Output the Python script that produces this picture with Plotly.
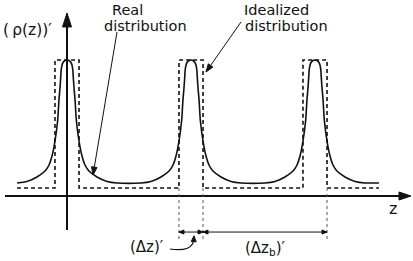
import math
import plotly.graph_objects as go

W, H = 413, 261

# ---------------- data ----------------
PEAK_CENTERS = [0.0, 1.0, 2.0]                      # z positions of the layers
PROFILE_DZ = [0.000, 0.016, 0.032, 0.040, 0.047, 0.052, 0.058, 0.065,
              0.075, 0.097, 0.121, 0.145, 0.177, 0.242, 0.323, 0.403]
PROFILE_RHO = [1.000, 0.996, 0.982, 0.963, 0.926, 0.853, 0.779, 0.706,
               0.559, 0.404, 0.294, 0.228, 0.184, 0.140, 0.107, 0.096]
REAL_Z_START, REAL_Z_END = -0.403, 2.516
REAL_BASE = 0.096

BOX_HALF = 0.097                                    # half of (Δz)'
IDEAL_LOW, IDEAL_HIGH = 0.059, 1.0
IDEAL_Z_START, IDEAL_Z_END = -0.403, 2.516

Z_AXIS = [-0.50, 2.774]
RHO_AXIS = [-0.25, 1.346]
DIM_RHO = -0.265
DOT_BOTTOM = -0.33

# axis scale (pixels)
X0_PX, X_SCALE = 67, 124
Y0_PX, Y_SCALE = 196, 136


def to_px(z, v):
    return X0_PX + X_SCALE * z, Y0_PX - Y_SCALE * v


# ---------------- build traces ----------------
rz, rr = [REAL_Z_START], [REAL_BASE]
for c in PEAK_CENTERS:
    left = list(zip(PROFILE_DZ[1:], PROFILE_RHO[1:]))[::-1]
    for dz, rho in left:
        if abs((c - dz) - rz[-1]) > 1e-9:
            rz.append(c - dz); rr.append(rho)
    rz.append(c); rr.append(PROFILE_RHO[0])
    for dz, rho in zip(PROFILE_DZ[1:], PROFILE_RHO[1:]):
        rz.append(c + dz); rr.append(rho)
rz.append(REAL_Z_END); rr.append(REAL_BASE)

iz, ir = [IDEAL_Z_START], [IDEAL_LOW]
for c in PEAK_CENTERS:
    iz += [c - BOX_HALF, c - BOX_HALF, c + BOX_HALF, c + BOX_HALF]
    ir += [IDEAL_LOW, IDEAL_HIGH, IDEAL_HIGH, IDEAL_LOW]
iz.append(IDEAL_Z_END); ir.append(IDEAL_LOW)

fig = go.Figure()
fig.add_trace(go.Scatter(x=iz, y=ir, mode="lines",
                         line=dict(color="#111", width=1.6, dash="4px,3px"),
                         hoverinfo="skip"))
fig.add_trace(go.Scatter(x=rz, y=rr, mode="lines",
                         line=dict(color="#111", width=1.6, shape="spline", smoothing=0.6),
                         hoverinfo="skip"))

shapes = []


def head(tip_px, tail_px, length, half_w, width=1):
    """Filled triangular arrow head drawn in pixels at tip, pointing away from tail."""
    dx = tip_px[0] - tail_px[0]
    dy = -(tip_px[1] - tail_px[1])            # pixel-shape y axis points up
    n = math.hypot(dx, dy)
    dx, dy = dx / n, dy / n
    bx, by = -length * dx, -length * dy
    nx, ny = -dy, dx
    p = (f"M0,0 L{bx + half_w * nx:.2f},{by + half_w * ny:.2f} "
         f"L{bx - half_w * nx:.2f},{by - half_w * ny:.2f} Z")
    shapes.append(dict(type="path", xref="paper", yref="paper",
                       xsizemode="pixel", ysizemode="pixel",
                       xanchor=tip_px[0] / W, yanchor=1 - tip_px[1] / H, path=p,
                       fillcolor="#111", line=dict(color="#111", width=width)))


def seg(p0, p1, width=1, dash=None, color="#111"):
    shapes.append(dict(type="line", xref="paper", yref="paper",
                       x0=p0[0] / W, y0=1 - p0[1] / H, x1=p1[0] / W, y1=1 - p1[1] / H,
                       line=dict(color=color, width=width, dash=dash)))


# axes
ax_l, ax_r = to_px(Z_AXIS[0], 0), to_px(Z_AXIS[1], 0)
seg(ax_l, (ax_r[0] - 10, ax_r[1]), width=2)
head(ax_r, ax_l, 12, 4)
ay_b, ay_t = to_px(0, RHO_AXIS[0]), to_px(0, RHO_AXIS[1])
seg(ay_b, (ay_t[0], ay_t[1] + 12), width=2)
head(ay_t, ay_b, 14, 4.5)

# dotted extension lines
c2, c3 = PEAK_CENTERS[1], PEAK_CENTERS[2]
marks = [c2 - BOX_HALF, c2 + BOX_HALF, c3 + BOX_HALF]
for xv in marks:
    seg(to_px(xv, IDEAL_LOW), to_px(xv, DOT_BOTTOM), width=1, dash="dot", color="#555")

# dimension bars with small heads at both ends
for a, b in [(marks[0], marks[1]), (marks[1], marks[2])]:
    pa, pb = to_px(a, DIM_RHO), to_px(b, DIM_RHO)
    seg(pa, pb, width=1)
    head(pa, pb, 5, 2)
    head(pb, pa, 5, 2)

# curved leader from (Δz)' label
shapes.append(dict(type="path", xref="x", yref="y",
                   path="M0.831,-0.390 Q1.016,-0.412 1.022,-0.320",
                   line=dict(color="#111", width=1.1)))
head(to_px(1.024, -0.292), to_px(1.022, -0.33), 6, 2.5)

# pointer arrows to the curves
for tip, tail in [((93, 175), (117, 32)), ((206, 72), (241, 22))]:
    seg(tail, tip, width=1)
    head(tip, tail, 8, 2.8)

fig.update_layout(shapes=shapes)

ann = []


def label(text, px, py, size=15, xanchor="left"):
    ann.append(dict(text=text, x=px / W, y=1 - py / H, xref="paper", yref="paper",
                    showarrow=False, xanchor=xanchor, yanchor="middle",
                    font=dict(family="DejaVu Sans", size=size, color="#111")))


label("Real", 110, 10, size=14.5)
label("distribution", 102, 26, size=14.5)
label("Idealized", 242, 10, size=14.5)
label("distribution", 243, 26, size=14.5)
label("(\u2009\u03c1(z))\u2032", 1, 30, size=15.5, xanchor="left")
label("z", 393, 208, size=16, xanchor="center")
label("(\u0394z)\u2032", 147, 247, size=15, xanchor="center")
label("(\u0394z<sub>b</sub>)\u2032", 265, 248, size=15, xanchor="center")

fig.update_layout(
    annotations=ann,
    width=W, height=H,
    margin=dict(l=0, r=0, t=0, b=0),
    paper_bgcolor="white", plot_bgcolor="white",
    showlegend=False,
    xaxis=dict(range=[-X0_PX / X_SCALE, (W - X0_PX) / X_SCALE], visible=False, fixedrange=True),
    yaxis=dict(range=[(Y0_PX - H) / Y_SCALE, Y0_PX / Y_SCALE], visible=False, fixedrange=True),
)

fig.write_html("out.html")
